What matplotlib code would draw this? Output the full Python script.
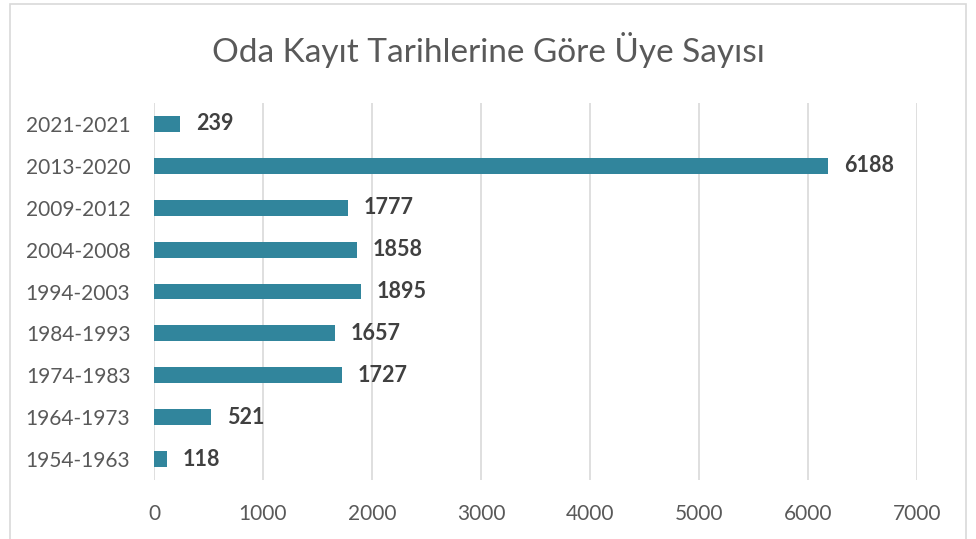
import matplotlib
matplotlib.use("Agg")
import matplotlib.pyplot as plt
from matplotlib.patches import Rectangle

categories = ["1954-1963", "1964-1973", "1974-1983", "1984-1993", "1994-2003",
              "2004-2008", "2009-2012", "2013-2020", "2021-2021"]
values = [118, 521, 1727, 1657, 1895, 1858, 1777, 6188, 239]
xticks = [0, 1000, 2000, 3000, 4000, 5000, 6000, 7000]
title = "Oda Kayıt Tarihlerine Göre Üye Sayısı"

plt.rcParams['font.family'] = ['Lato', 'DejaVu Sans']

W, H = 976, 539
fig = plt.figure(figsize=(W / 100, H / 100), dpi=100)
fig.patch.set_facecolor("white")
fig.patches.append(Rectangle((10 / W, -0.05), (966 - 10) / W, (H - 4) / H + 0.05,
                             transform=fig.transFigure, fill=False,
                             edgecolor="#d9d9d9", linewidth=1.2))

ax = fig.add_axes([154 / W, (H - 480) / H, (917 - 154) / W, (480 - 103) / H])
y = list(range(len(categories)))
ax.barh(y, values, height=0.38, color="#31859c", zorder=3)
for yi, v in zip(y, values):
    ax.text(v + 145, yi, str(v), va="center", ha="left", fontsize=15.5,
            fontweight="bold", color="#404040", zorder=4)

ax.set_xlim(0, 7000)
ax.set_ylim(-0.5, len(categories) - 0.5)
ax.set_xticks(xticks)
ax.set_xticklabels([str(t) for t in xticks])
ax.set_yticks(y)
ax.set_yticklabels(categories)
ax.tick_params(axis="both", length=0, labelsize=15, colors="#595959")
ax.tick_params(axis="x", pad=17)
ax.tick_params(axis="y", pad=17)
ax.grid(axis="x", color="#d9d9d9", linewidth=1.2, zorder=0)
for s in ax.spines.values():
    s.set_visible(False)

fig.text(0.5, (H - 50) / H, title, ha="center", va="center", fontsize=24,
         color="#595959")

fig.savefig("out.png", dpi=100)
